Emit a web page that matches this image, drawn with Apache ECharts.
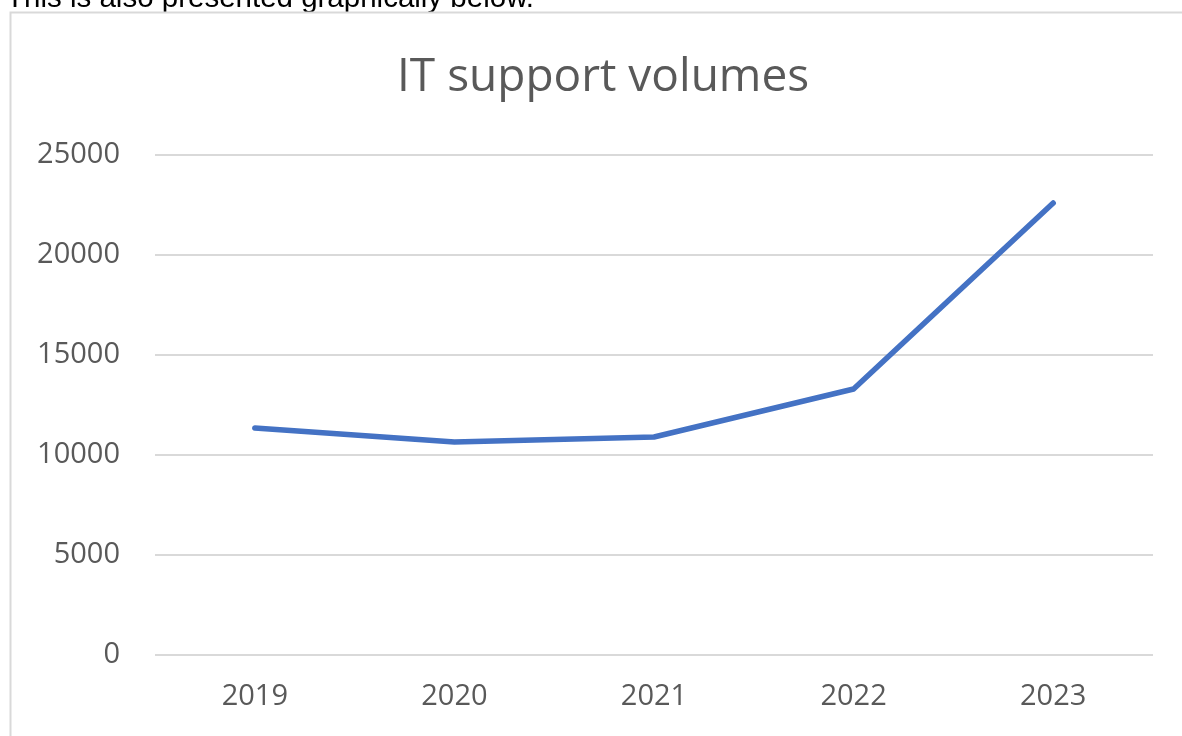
<!DOCTYPE html>
<html><head><meta charset="utf-8">
<script src="https://cdn.jsdelivr.net/npm/echarts@6/dist/echarts.min.js"></script>
<style>html,body{margin:0;padding:0;background:#fff}#c{width:1182px;height:736px}</style>
</head><body><div id="c"></div>
<script>
const categories = ['2019','2020','2021','2022','2023'];
const volumes = [11350, 10650, 10900, 13300, 22600];
const yTicks = [0, 5000, 10000, 15000, 20000, 25000];

const chart = echarts.init(document.getElementById('c'), null, {renderer:'canvas'});
chart.setOption({
  animation: false,
  backgroundColor: '#fff',
  title: {
    text: 'IT support volumes', left: 392, top: 50,
    textStyle: {fontFamily: 'Open Sans', fontWeight: 'normal', fontSize: 46, color: '#595959'}
  },
  graphic: [
    {type: 'text', left: 6, top: -16, z: -2, style: {text: 'This is also presented graphically below.', font: '29.5px "Liberation Sans", Arial, sans-serif', fill: '#000'}},
    {type: 'rect', z: -1, shape: {x: 10.5, y: 12.5, width: 1200, height: 800}, style: {fill: '#fff', stroke: '#d9d9d9', lineWidth: 2}, silent: true}
  ],
  grid: {left: 155, right: 29, top: 155, bottom: 81},
  xAxis: {
    type: 'category', data: categories, boundaryGap: true,
    axisLine: {show: false}, axisTick: {show: false},
    axisLabel: {fontFamily: 'Open Sans', fontSize: 29, color: '#595959', margin: 27}
  },
  yAxis: {
    type: 'value', min: yTicks[0], max: yTicks[yTicks.length-1], interval: 5000,
    axisLine: {show: false}, axisTick: {show: false},
    axisLabel: {fontFamily: 'Open Sans', fontSize: 29, color: '#595959', margin: 35, formatter: v => String(v)},
    splitLine: {lineStyle: {color: '#d9d9d9', width: 2}}
  },
  series: [{
    type: 'line', data: volumes, symbol: 'none', smooth: false,
    lineStyle: {color: '#4472C4', width: 5.5, cap: 'round', join: 'round'}
  }]
});
</script></body></html>
